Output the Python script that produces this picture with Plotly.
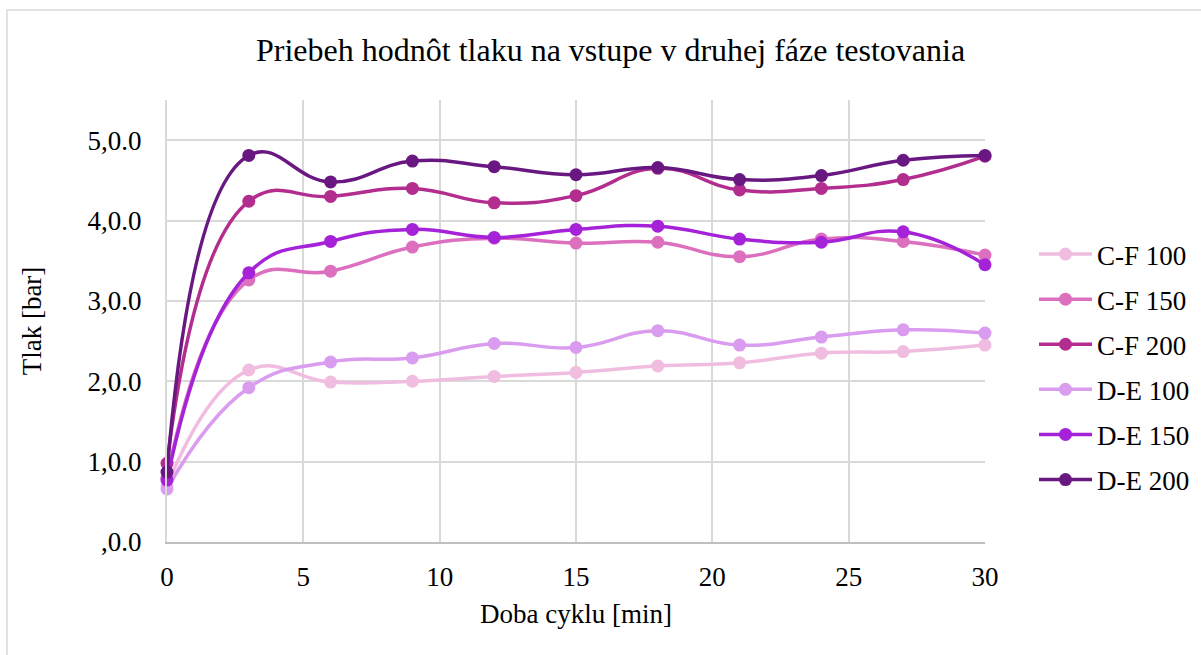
import plotly.graph_objects as go

# Cycle time [min]
time_min = [0, 3, 6, 9, 12, 15, 18, 21, 24, 27, 30]

# Inlet pressure [bar] per configuration
cf_100 = [0.70, 2.14, 1.99, 2.00, 2.06, 2.11, 2.19, 2.23, 2.35, 2.37, 2.45]
cf_150 = [0.80, 3.26, 3.37, 3.67, 3.78, 3.72, 3.73, 3.55, 3.77, 3.74, 3.57]
cf_200 = [0.98, 4.24, 4.30, 4.40, 4.22, 4.31, 4.65, 4.38, 4.40, 4.51, 4.80]
de_100 = [0.66, 1.92, 2.24, 2.29, 2.47, 2.42, 2.63, 2.45, 2.55, 2.64, 2.60]
de_150 = [0.77, 3.35, 3.74, 3.89, 3.79, 3.89, 3.93, 3.77, 3.73, 3.86, 3.45]
de_200 = [0.87, 4.81, 4.48, 4.74, 4.67, 4.57, 4.66, 4.51, 4.56, 4.75, 4.81]

series_names = ["C-F 100", "C-F 150", "C-F 200", "D-E 100", "D-E 150", "D-E 200"]
series_values = [cf_100, cf_150, cf_200, de_100, de_150, de_200]
series_colors = ["#F0BDE0", "#DC6FBE", "#B32D8E", "#D99CEE", "#A522D8", "#681880"]

y_tickvals = [0, 1, 2, 3, 4, 5]
y_ticktext = [",0.0", "1,0.0", "2,0.0", "3,0.0", "4,0.0", "5,0.0"]
x_tickvals = [0, 5, 10, 15, 20, 25, 30]

FONT = "Liberation Serif"
GRID = "#D9D9D9"

fig = go.Figure()
for i, (name, vals, col) in enumerate(zip(series_names, series_values, series_colors)):
    fig.add_trace(go.Scatter(
        x=time_min, y=vals, name=name, mode="lines+markers",
        line=dict(color=col, width=3.5, shape="spline", smoothing=1.3),
        marker=dict(color=col, size=13),
        cliponaxis=False,
        legendgroup=f"g{i}",
    ))

W, H = 1201, 655
L, R, T, B = 167, 216, 100, 113
pw, ph = W - L - R, H - T - B

fig.update_layout(
    width=W, height=H,
    margin=dict(l=L, r=R, t=T, b=B, autoexpand=False),
    paper_bgcolor="white", plot_bgcolor="white",
    font_family=FONT, font_color="#000000", font_size=27,
    xaxis=dict(
        range=[0, 30], tickvals=x_tickvals,
        showgrid=True, gridcolor=GRID, gridwidth=2,
        showline=True, linecolor="#BFBFBF", linewidth=2,
        zeroline=False, ticks="", ticklabelstandoff=10,
        tickfont=dict(family=FONT, size=27),
        title=dict(text="Doba cyklu [min]", font=dict(family=FONT, size=27), standoff=13),
    ),
    yaxis=dict(
        range=[0, 5.5], tickvals=y_tickvals, ticktext=y_ticktext,
        showgrid=True, gridcolor=GRID, gridwidth=2,
        showline=True, linecolor=GRID, linewidth=2,
        zeroline=False, ticks="", ticklabelstandoff=18,
        tickfont=dict(family=FONT, size=27),
        title=dict(text="Tlak [bar]", font=dict(family=FONT, size=27), standoff=38),
    ),
    legend=dict(
        x=(1034 - L) / pw, xanchor="left",
        y=0.5 + (542 - 367 - ph / 2) / ph, yanchor="middle",
        font=dict(family=FONT, size=27),
        itemwidth=53, tracegroupgap=7,
        bgcolor="rgba(0,0,0,0)",
    ),
    showlegend=True,
)

# Chart title
fig.add_annotation(
    text="Priebeh hodnôt tlaku na vstupe v druhej fáze testovania",
    x=(610 - L) / pw, xref="paper", xanchor="center",
    y=(542 - 50) / ph, yref="paper", yanchor="middle",
    showarrow=False, font=dict(family=FONT, size=32, color="#000000"),
)

# Outer chart frame
fig.add_shape(
    type="rect", xref="paper", yref="paper",
    x0=(7 - L) / pw, x1=(1250 - L) / pw,
    y0=(542 - 700) / ph, y1=(542 - 10) / ph,
    line=dict(color="#D9D9D9", width=1.5), fillcolor="rgba(0,0,0,0)",
    layer="below",
)

fig.write_html("out.html")
